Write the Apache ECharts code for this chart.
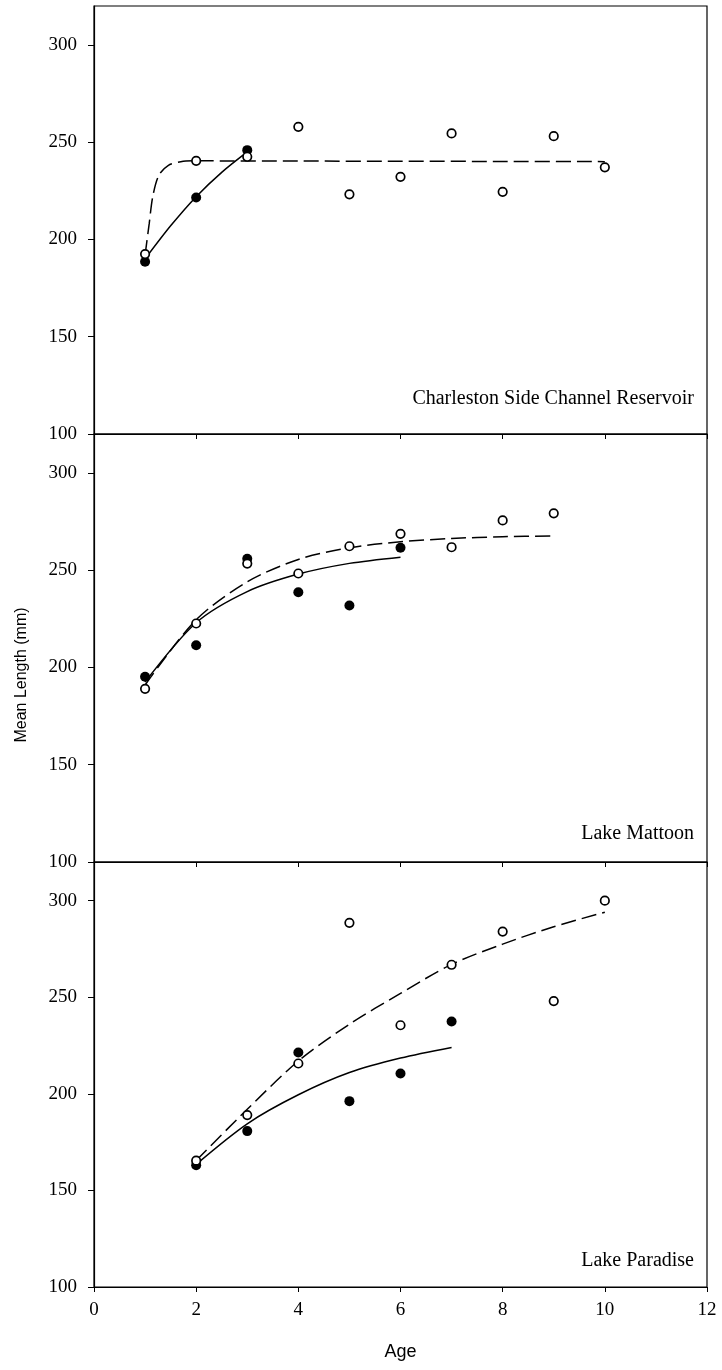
<!DOCTYPE html>
<html>
<head>
<meta charset="utf-8">
<script src="https://cdn.jsdelivr.net/npm/echarts@6/dist/echarts.min.js"></script>
<style>
html,body{margin:0;padding:0;background:#fff;}
#chart{width:722px;height:1370px;}
</style>
</head>
<body>
<div id="chart"></div>
<script>
// ---------- Data ----------
var panelNames = ['Charleston Side Channel Reservoir', 'Lake Mattoon', 'Lake Paradise'];
var xTicks = [0, 2, 4, 6, 8, 10, 12];
var yTicks = [100, 150, 200, 250, 300];

// Charleston Side Channel Reservoir
var csFilledAge = [1, 2, 3];
var csFilled = [188.5, 221.6, 245.9];
var csOpenAge = [1, 2, 3, 4, 5, 6, 7, 8, 9, 10];
var csOpen = [192.5, 240.4, 242.5, 257.9, 223.2, 232.2, 254.5, 224.5, 253.1, 237.1];
var csSolidAge = [1, 1.5, 2, 2.5, 3];
var csSolid = [190, 207, 222, 234.5, 245];
var csDashAge = [1, 1.08, 1.15, 1.27, 1.45, 1.7, 2, 4, 6, 8, 10];
var csDash = [192, 208, 222, 233, 238, 240, 240.4, 240.3, 240.2, 240.1, 240];

// Lake Mattoon
var lmFilledAge = [1, 2, 3, 4, 5, 6];
var lmFilled = [195.2, 211.4, 255.9, 238.7, 231.8, 261.5];
var lmOpenAge = [1, 2, 3, 4, 5, 6, 7, 8, 9];
var lmOpen = [189, 222.6, 253.4, 248.3, 262.3, 268.7, 261.8, 275.6, 279.2];
var lmSolidAge = [1, 2, 3, 4, 5, 6];
var lmSolid = [192.5, 223, 239, 248, 253.5, 256.7];
var lmDashAge = [1, 2, 3, 4, 5, 6, 7, 8, 9];
var lmDash = [191, 224.5, 244, 255.5, 261.5, 264.6, 266.3, 267.2, 267.6];

// Lake Paradise
var lpFilledAge = [2, 3, 4, 5, 6, 7];
var lpFilled = [163, 180.7, 221.4, 196.2, 210.5, 237.4];
var lpOpenAge = [2, 3, 4, 5, 6, 7, 8, 9, 10];
var lpOpen = [165.4, 189, 215.7, 288.5, 235.5, 266.8, 284, 248, 300];
var lpSolidAge = [2, 3, 4, 5, 6, 7];
var lpSolid = [163.5, 184.5, 199.5, 211, 218.5, 224];
var lpDashAge = [2, 3, 4, 5, 6, 7, 8, 9, 10];
var lpDash = [165.5, 192, 217, 236, 252, 267, 277.5, 286.5, 294];

// ---------- Build chart ----------
function pairs(xs, ys) { return xs.map(function (x, i) { return [x, ys[i]]; }); }

var panels = [
  {filled: pairs(csFilledAge, csFilled), open: pairs(csOpenAge, csOpen), solid: pairs(csSolidAge, csSolid), dash: pairs(csDashAge, csDash)},
  {filled: pairs(lmFilledAge, lmFilled), open: pairs(lmOpenAge, lmOpen), solid: pairs(lmSolidAge, lmSolid), dash: pairs(lmDashAge, lmDash)},
  {filled: pairs(lpFilledAge, lpFilled), open: pairs(lpOpenAge, lpOpen), solid: pairs(lpSolidAge, lpSolid), dash: pairs(lpDashAge, lpDash)}
];

var serif = '"Liberation Serif", "Times New Roman", serif';
var sans = '"Liberation Sans", Arial, sans-serif';

var gridTops = [6, 434, 862];
var gridHeights = [428, 428, 425];
var grids = [], xAxes = [], yAxes = [], series = [], graphics = [];
var labelY = [400, 835, 1262];

for (var i = 0; i < 3; i++) {
  grids.push({left: 94, width: 613, top: gridTops[i], height: gridHeights[i],
    show: true, borderColor: '#000', borderWidth: 1.2, backgroundColor: 'transparent'});
  xAxes.push({
    type: 'value', gridIndex: i, min: xTicks[0], max: xTicks[xTicks.length - 1], interval: 2,
    axisLine: {show: true, lineStyle: {color: '#000', width: 1.2}},
    axisTick: {show: true, inside: false, length: 5, lineStyle: {color: '#000', width: 1}},
    axisLabel: {show: i === 2, color: '#000', fontFamily: serif, fontSize: 19, margin: 14},
    splitLine: {show: false},
    name: i === 2 ? 'Age' : '', nameLocation: 'middle', nameGap: 56,
    nameTextStyle: {color: '#000', fontFamily: sans, fontSize: 18}
  });
  yAxes.push({
    type: 'value', gridIndex: i, min: yTicks[0], max: 320, interval: 50,
    axisLine: {show: true, lineStyle: {color: '#000', width: 1.2}},
    axisTick: {show: true, inside: false, length: 6, lineStyle: {color: '#000', width: 1}},
    axisLabel: {color: '#000', fontFamily: serif, fontSize: 19, margin: 17, showMaxLabel: false,
      formatter: function (v) { return yTicks.indexOf(v) >= 0 ? String(v) : ''; }},
    splitLine: {show: false}
  });
  var p = panels[i];
  series.push({type: 'line', xAxisIndex: i, yAxisIndex: i, data: p.dash, smooth: 0.3,
    showSymbol: false, silent: true, z: 2,
    lineStyle: {color: '#000', width: 1.5, type: [15, 6]}});
  series.push({type: 'line', xAxisIndex: i, yAxisIndex: i, data: p.solid, smooth: 0.3,
    showSymbol: false, silent: true, z: 2,
    lineStyle: {color: '#000', width: 1.5, type: 'solid'}});
  series.push({type: 'scatter', xAxisIndex: i, yAxisIndex: i, data: p.filled, symbol: 'circle', symbolSize: 10,
    itemStyle: {color: '#000', borderColor: '#000', borderWidth: 0, opacity: 1}, z: 3});
  series.push({type: 'scatter', xAxisIndex: i, yAxisIndex: i, data: p.open, symbol: 'circle', symbolSize: 8.5,
    itemStyle: {color: '#fff', borderColor: '#000', borderWidth: 1.7, opacity: 1}, z: 4});
  graphics.push({type: 'text', right: 28, top: labelY[i] - 11,
    style: {text: panelNames[i], fill: '#000', font: '20px ' + serif, textAlign: 'right'}});
}

graphics.push({type: 'text', x: 22, y: 675, rotation: Math.PI / 2,
  style: {text: 'Mean Length (mm)', fill: '#000', font: '16px ' + sans, textAlign: 'center', textVerticalAlign: 'middle'}});

var chart = echarts.init(document.getElementById('chart'), null, {renderer: 'canvas'});
chart.setOption({
  animation: false,
  backgroundColor: '#fff',
  grid: grids,
  xAxis: xAxes,
  yAxis: yAxes,
  series: series,
  graphic: graphics
});
</script>
</body>
</html>
